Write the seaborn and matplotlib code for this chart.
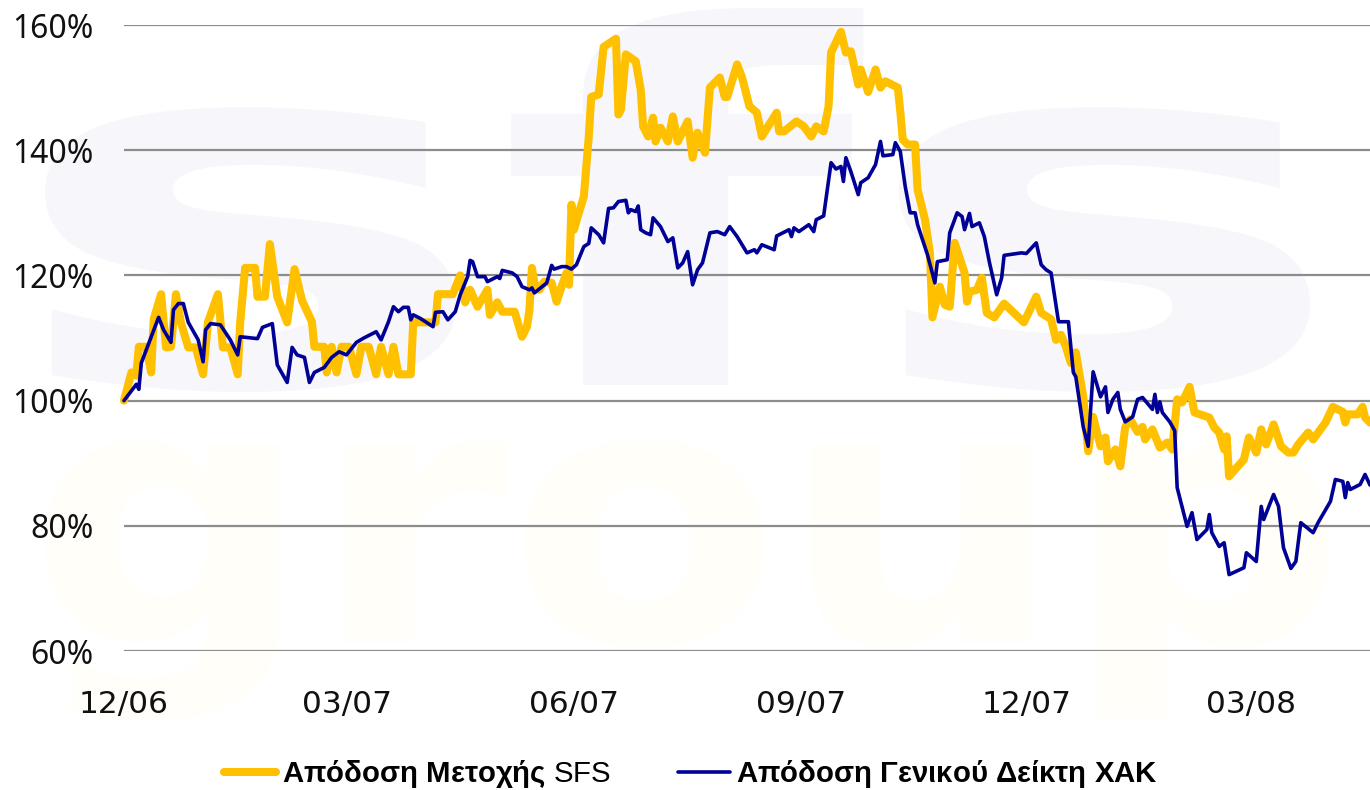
import numpy as np
import pandas as pd
import matplotlib
matplotlib.use("Agg")
import matplotlib.pyplot as plt
import seaborn as sns
from matplotlib.textpath import TextPath
from matplotlib.patches import PathPatch
from matplotlib.font_manager import FontProperties
from matplotlib.transforms import Affine2D
from matplotlib.ticker import FuncFormatter

# ---------------- data ----------------
start_date = "2006-12-01"

sfs_day = [0, 3, 5, 6, 9, 11, 12, 15, 17, 19, 21, 23, 26, 29, 32, 34, 38, 40, 43, 46,
           47, 49, 53, 54, 57, 59, 62, 66, 69, 72, 76, 77, 81, 82, 84, 86, 88, 91, 94, 96,
           99, 102, 104, 107, 109, 111, 116, 117, 126, 127, 133, 136, 138, 140, 143, 147, 148, 151, 153, 158,
           161, 163, 164, 165, 166, 168, 170, 173, 175, 177, 179, 180, 181, 182, 184, 186, 188, 189, 192, 194,
           199, 200, 201, 203, 207, 209, 210, 212, 214, 215, 217, 220, 222, 224, 228, 230, 232, 235, 237, 241,
           243, 244, 248, 250, 253, 256, 258, 264, 265, 267, 272, 275, 278, 280, 283, 285, 286, 290, 292, 294,
           297, 298, 301, 304, 306, 308, 313, 314, 315, 317, 320, 321, 324, 326, 327, 330, 332, 334, 336, 340,
           341, 342, 345, 347, 349, 352, 356, 364, 369, 371, 375, 377, 379, 381, 383, 385, 388, 390, 392, 395,
           397, 398, 401, 403, 405, 407, 410, 412, 413, 416, 419, 422, 424, 426, 428, 431, 433, 439, 441, 443,
           445, 446, 447, 453, 455, 458, 460, 462, 465, 468, 471, 473, 475, 479, 481, 486, 489, 493, 494, 495,
           499, 501, 502, 504]
sfs_val = [100, 104.5, 104, 108.6, 108.6, 104.5, 113, 117, 108.5, 108.6, 117, 112.5, 108.5, 108.5, 104.2, 112.6, 117, 108.5, 108.5, 104.2,
           112.5, 121.2, 121.2, 116.6, 116.6, 125, 116.6, 112.5, 121, 116, 112.6, 108.6, 108.6, 104.5, 108.6, 104.5, 108.6, 108.6, 104.2, 108.6,
           108.6, 104.2, 108.6, 104.2, 108.6, 104.2, 104.2, 112.5, 112.5, 117, 117, 120, 115.7, 117.7, 115, 117.7, 113.7, 115.7, 114.2, 114.2,
           110.2, 111.8, 114.5, 121.2, 118.8, 117.7, 119, 118.8, 115.8, 118.2, 120.4, 118.5, 131.3, 127.3, 130, 132.6, 142.2, 148.5, 148.9, 156.5,
           157.8, 145.7, 146.5, 155.3, 154.2, 149.7, 143.8, 142.2, 145.2, 141.4, 143.6, 141.4, 145.4, 141.4, 144.6, 138.8, 142.8, 139.6, 150, 151.6,
           148.5, 148.5, 153.7, 151.6, 147, 146, 142.2, 146, 143, 143, 144.6, 143.8, 142.2, 143.8, 143, 147, 155.6, 158.9, 155.6, 155.8,
           150.5, 152.9, 149.3, 152.9, 150, 151, 150, 146.2, 141.7, 140.9, 140.9, 133.7, 128.9, 123.6, 113.3, 118.2, 115.3, 115, 125.2, 120.4,
           115.8, 117.4, 117.7, 119.6, 114, 113.3, 115.5, 112.5, 116.6, 114, 113, 109.7, 110.5, 108.6, 106, 107.7, 100.6, 91.9, 97.4, 92.7,
           94.1, 90.3, 92.2, 89.5, 95.8, 97, 95, 95.8, 93.8, 95.4, 92.5, 93.3, 92.2, 100.2, 99.7, 102.2, 98.1, 97.3, 95.7, 94.9,
           92.2, 94.3, 87.9, 90.6, 94.1, 91.7, 95.4, 93, 96.2, 92.7, 91.7, 91.7, 93, 94.9, 93.8, 96.5, 99, 98.2, 96.5, 97.8,
           97.8, 99, 97.3, 96.5]

xak_day = [0, 5, 6, 7, 11, 14, 16, 19, 20, 22, 24, 26, 30, 32, 33, 35, 39, 43, 46, 47,
           54, 56, 60, 62, 66, 68, 70, 73, 75, 77, 81, 84, 87, 90, 94, 97, 102, 104, 107, 109,
           111, 113, 115, 116, 117, 120, 125, 126, 129, 131, 134, 136, 139, 140, 141, 143, 146, 147, 151, 152,
           153, 157, 159, 161, 164, 165, 166, 171, 173, 174, 177, 179, 181, 183, 186, 188, 189, 192, 194, 196,
           198, 200, 203, 204, 205, 207, 208, 209, 211, 213, 214, 217, 220, 222, 224, 226, 228, 230, 232, 234,
           237, 240, 243, 245, 248, 252, 255, 256, 258, 263, 264, 269, 270, 271, 273, 277, 279, 280, 283, 286,
           288, 290, 291, 292, 294, 297, 298, 301, 304, 306, 307, 311, 312, 314, 316, 318, 320, 321, 325, 328,
           329, 333, 334, 337, 339, 340, 342, 343, 346, 348, 350, 353, 355, 356, 363, 365, 369, 371, 373, 375,
           378, 382, 384, 385, 388, 390, 392, 395, 397, 398, 400, 402, 403, 405, 408, 410, 412, 416, 417, 418,
           419, 420, 423, 425, 426, 430, 432, 434, 438, 439, 440, 443, 445, 447, 453, 454, 458, 460, 461, 465,
           467, 469, 472, 474, 476, 481, 483, 488, 490, 493, 494, 495, 496, 500, 502, 504]
xak_val = [100, 102.6, 101.8, 106, 110.2, 113.3, 111.3, 109.3, 114.5, 115.5, 115.5, 112.5, 109.7, 106.2, 111.3, 112.3, 112.1, 109.7, 107.3, 110.2,
           109.9, 111.7, 112.3, 105.7, 102.9, 108.5, 107.3, 106.9, 102.9, 104.5, 105.3, 106.9, 107.8, 107.3, 109.3, 110, 111, 109.7, 112.6, 115,
           114.2, 114.9, 114.9, 112.9, 113.7, 113.1, 111.8, 114.1, 114.2, 112.9, 114.2, 116.9, 119.8, 122.4, 122.2, 119.8, 119.8, 119, 119.8, 119.5,
           120.8, 120.4, 119.8, 118.2, 117.7, 118, 117.2, 118.8, 121.6, 121, 121.4, 121.4, 121, 121.7, 124.6, 125.1, 127.6, 126.5, 125.2, 130.7,
           130.8, 131.8, 132, 130, 130.5, 130.2, 131.1, 127.3, 126.8, 126.5, 129.2, 127.8, 125.4, 126, 121.2, 122, 123.8, 118.5, 120.9, 122,
           126.8, 127, 126.5, 127.8, 126.2, 123.6, 124.1, 123.6, 124.9, 124.1, 126.3, 127.3, 126.2, 127.6, 127, 128.1, 127, 128.9, 129.5, 138,
           137, 137.4, 135, 138.8, 136.6, 132.9, 134.8, 135.6, 137.7, 141.4, 139.1, 139.3, 141.2, 139.8, 134.2, 130, 130, 128.1, 123.3, 118.8,
           122.2, 122.5, 126.8, 130, 129.4, 127.3, 129.9, 127.8, 128.4, 126.2, 122.2, 116.9, 119.6, 123.2, 123.6, 123.5, 125.2, 121.7, 120.9, 120.4,
           112.6, 112.6, 104.5, 103.8, 95.8, 92.7, 104.6, 100.6, 102.2, 98.1, 100.2, 101.3, 98.6, 96.6, 97.4, 100.2, 100.5, 98.6, 101, 98.1,
           99.8, 98.1, 96.6, 95.2, 86.1, 79.9, 82.1, 77.8, 79.4, 81.8, 78.9, 76.7, 77.3, 72.2, 73.3, 75.7, 74.3, 83.1, 81, 85,
           83.1, 76.5, 73.2, 74.3, 80.5, 78.9, 80.5, 83.9, 87.4, 87.1, 84.5, 86.9, 85.8, 86.6, 88.2, 86.5]

series_names = ["Απόδοση Μετοχής SFS", "Απόδοση Γενικού Δείκτη ΧΑΚ"]
tick_dates = ["2006-12-01", "2007-03-01", "2007-06-01", "2007-09-01", "2007-12-01", "2008-03-01"]
tick_labels = ["12/06", "03/07", "06/07", "09/07", "12/07", "03/08"]
y_ticks = [60, 80, 100, 120, 140, 160]

# ---------------- build frames ----------------
t0 = pd.Timestamp(start_date)
df_sfs = pd.DataFrame({"date": t0 + pd.to_timedelta(sfs_day, unit="D"), "value": sfs_val,
                       "series": series_names[0]})
df_xak = pd.DataFrame({"date": t0 + pd.to_timedelta(xak_day, unit="D"), "value": xak_val,
                       "series": series_names[1]})

YELLOW = "#FFC000"
NAVY = "#000096"

sns.set_theme(style="white")
plt.rcParams["mathtext.fontset"] = "custom"
plt.rcParams["mathtext.bf"] = "Liberation Sans:bold"
plt.rcParams["mathtext.rm"] = "Liberation Sans"
plt.rcParams["mathtext.it"] = "Liberation Sans:italic"

fig = plt.figure(figsize=(13.7, 7.9), dpi=100)
fig.patch.set_facecolor("white")

# faint background watermark (logo-like letters)
def watermark(text, box, color):
    fp = FontProperties(family="DejaVu Sans", weight="bold")
    tp = TextPath((0, 0), text, prop=fp, size=100)
    bb = tp.get_extents()
    x0, y0, x1, y1 = box
    tr = (Affine2D().translate(-bb.x0, -bb.y0)
          .scale((x1 - x0) / bb.width, (y1 - y0) / bb.height)
          .translate(x0, y0)) + fig.transFigure
    fig.add_artist(PathPatch(tp, transform=tr, facecolor=color, edgecolor="none", zorder=-5))

watermark("sfs", (45 / 1370, 1 - 392 / 790, 1310 / 1370, 1 - 8 / 790), "#f7f7fb")
watermark("group", (45 / 1370, 1 - 720 / 790, 1330 / 1370, 1 - 440 / 790), "#fffef9")

ax = fig.add_axes([124 / 1370, 1 - 651 / 790, 1 - 124 / 1370, (651 - 25) / 790])
ax.set_facecolor("none")

sns.lineplot(data=df_sfs, x="date", y="value", ax=ax, color=YELLOW, linewidth=5.8,
             estimator=None, sort=False, label=series_names[0], zorder=3)
sns.lineplot(data=df_xak, x="date", y="value", ax=ax, color=NAVY, linewidth=2.6,
             estimator=None, sort=False, label=series_names[1], zorder=4)

ax.set_ylim(60, 160)
ax.set_xlim(t0, t0 + pd.Timedelta(days=max(sfs_day)))
for s in ax.spines.values():
    s.set_visible(False)

ax.set_yticks(y_ticks)
ax.yaxis.set_major_formatter(FuncFormatter(lambda v, p: f"{v:.0f}%"))
ax.set_xticks(pd.to_datetime(tick_dates))
ax.set_xticklabels(tick_labels)
ax.yaxis.grid(True, color="#8c8c8c", linewidth=1.6)
ax.xaxis.grid(False)
ax.tick_params(axis="y", length=0, pad=22, labelsize=23, labelcolor="#111111")
ax.tick_params(axis="x", length=0, pad=28, labelsize=22.5, labelcolor="#111111")
for lab in ax.get_yticklabels():
    lab.set_fontfamily("Noto Sans")
for lab in ax.get_xticklabels():
    lab.set_fontfamily("DejaVu Sans")
ax.set_xlabel("")
ax.set_ylabel("")
for line in ax.lines:
    line.set_clip_on(False)
    line.set_solid_joinstyle("round")

handles = ax.get_lines()[:2]
labels = [r"$\mathbf{Απόδοση\ Μετοχής}$ SFS", r"$\mathbf{Απόδοση\ Γενικού\ Δείκτη\ ΧΑΚ}$"]
leg = ax.legend(handles, labels, loc="center", bbox_to_anchor=(691 / 1370, 16 / 790),
                bbox_transform=fig.transFigure, ncol=2, frameon=False,
                prop=FontProperties(family="Liberation Sans", size=21.2),
                handlelength=1.75, handletextpad=0.2, columnspacing=2.3, borderpad=0)
for t in leg.get_texts():
    t.set_color("black")

fig.savefig("out.png", dpi=100)
